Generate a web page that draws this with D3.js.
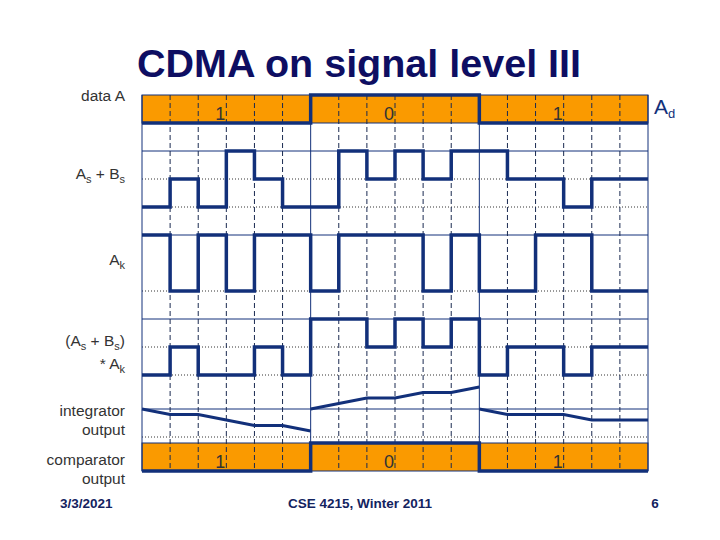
<!DOCTYPE html>
<html><head><meta charset="utf-8">
<script src="https://cdn.jsdelivr.net/npm/d3@7"></script>
<style>
body{margin:0;background:#fff;}
svg text{font-family:"Liberation Sans",Arial,sans-serif;}
</style></head>
<body><svg id="c" width="720" height="540"></svg>
<script>
// ---- data ----
const title = "CDMA on signal level III";
const dataBits = [1, 0, 1];                 // data A (bit values)
const bitLabels = ["1", "0", "1"];
const chipsPerBit = 6;
const asBs    = [0,1,0,2,1,0, 0,2,1,2,1,2, 2,1,1,0,1,1];   // As + Bs (levels 0..2)
const ak      = [1,0,1,0,1,1, 0,1,1,1,0,1, 0,0,1,1,0,0];   // Ak chip sequence
const product = [0,1,0,0,1,0, 2,2,1,2,1,2, 0,1,1,0,1,1];   // (As + Bs) * Ak (levels 0..2)
const integrator = [                                     // integrator output per bit, at chip boundaries
  [0,-1,-1,-2,-3,-3,-4],
  [0, 1, 2, 2, 3, 3, 4],
  [0,-1,-1,-1,-2,-2,-2]
];
const comparatorBits = [1, 0, 1];
const footer = {date: "3/3/2021", course: "CSE 4215, Winter 2011", page: "6"};

// ---- drawing ----
const svg = d3.select("#c");
const navy = "#12307a";
const orange = "#fa9a00";
const nChips = asBs.length;
const x = d3.scaleLinear().domain([0, nChips]).range([142, 648]);

const yData = d3.scaleLinear().domain([0, 1]).range([95, 123]);
const yAsBs = d3.scaleLinear().domain([0, 2]).range([207, 151]);
const yAk = d3.scaleLinear().domain([0, 1]).range([291, 235]);
const yProd = d3.scaleLinear().domain([0, 2]).range([375, 319]);
const yInt = d3.scaleLinear().domain([0, -4]).range([409, 431]);
const yComp = d3.scaleLinear().domain([0, 1]).range([443, 471]);

// title
svg.append("text").attr("x", 359).attr("y", 77).attr("text-anchor", "middle")
  .attr("font-size", 39.5).attr("font-weight", "bold").attr("fill", "#0e0e62").text(title);

// orange bands
[[95,123],[443,471]].forEach(([a,b]) => {
  svg.append("rect").attr("x", x(0)).attr("y", a).attr("width", x(nChips)-x(0)).attr("height", b-a)
    .attr("fill", orange).attr("stroke", navy).attr("stroke-width", 1);
});

// horizontal grid
const solidH = [151, 235, 319, 409];
const dottedH = [179, 207, 291, 347, 375, 437];
svg.selectAll(".hs").data(solidH).enter().append("line")
  .attr("x1", x(0)).attr("x2", x(nChips)).attr("y1", d=>d).attr("y2", d=>d)
  .attr("stroke", navy).attr("stroke-width", 1);
svg.selectAll(".hd").data(dottedH).enter().append("line")
  .attr("x1", x(0)).attr("x2", x(nChips)).attr("y1", d=>d).attr("y2", d=>d)
  .attr("stroke", "#333").attr("stroke-width", 1).attr("stroke-dasharray", "1,2");

// vertical grid
const vt = d3.range(0, nChips + 1);
svg.selectAll(".v").data(vt).enter().append("line")
  .attr("x1", d=>x(d)).attr("x2", d=>x(d)).attr("y1", 95).attr("y2", 471)
  .attr("stroke", d => (d % chipsPerBit === 0) ? navy : "#1a2a50").attr("stroke-width", 1)
  .attr("stroke-dasharray", d => (d % chipsPerBit === 0) ? null : "5,3");

// step signal helper
function stepPath(vals, yS, unit) {
  const pts = vals.map((v,i) => [x(i*unit), yS(v)]);
  pts.push([x(vals.length*unit), yS(vals[vals.length-1])]);
  return d3.line().curve(d3.curveStepAfter)(pts);
}
const thick = 3.5;
svg.append("path").attr("d", stepPath(dataBits, yData, chipsPerBit)).attr("fill","none").attr("stroke",navy).attr("stroke-width",thick);
svg.append("path").attr("d", stepPath(asBs, yAsBs, 1)).attr("fill","none").attr("stroke",navy).attr("stroke-width",thick);
svg.append("path").attr("d", stepPath(ak, yAk, 1)).attr("fill","none").attr("stroke",navy).attr("stroke-width",thick);
svg.append("path").attr("d", stepPath(product, yProd, 1)).attr("fill","none").attr("stroke",navy).attr("stroke-width",thick);
svg.append("path").attr("d", stepPath(comparatorBits, yComp, chipsPerBit)).attr("fill","none").attr("stroke",navy).attr("stroke-width",thick);

// integrator
integrator.forEach((seg, b) => {
  const line = d3.line().x((v,i) => x(b*chipsPerBit + i)).y(v => yInt(v));
  svg.append("path").attr("d", line(seg)).attr("fill","none").attr("stroke",navy).attr("stroke-width",3);
});

// bit labels in bands
bitLabels.forEach((t, b) => {
  const cx = x(b*chipsPerBit + chipsPerBit/2) - 6;
  [120, 468].forEach(yy => {
    svg.append("text").attr("x", cx).attr("y", yy).attr("text-anchor","middle")
      .attr("font-size", 18).attr("fill", "#333").text(t);
  });
});

// left labels
const lab = "#333";
function label(y, parts) {
  const t = svg.append("text").attr("x", 125).attr("y", y).attr("text-anchor","end")
    .attr("font-size", 15.5).attr("fill", lab);
  parts.forEach(p => {
    const s = t.append("tspan").text(p[0]);
    if (p[1]) s.attr("font-size", 11).attr("dy", 4);
    else if (p[2]) s.attr("dy", -4);
  });
}
label(101, [["data A"]]);
label(179, [["A"],["s",1],[" + B",0,1],["s",1]]);
label(265, [["A"],["k",1]]);
label(346, [["(A"],["s",1],[" + B",0,1],["s",1],[")",0,1]]);
label(369, [["* A"],["k",1]]);
label(416, [["integrator"]]);
label(435, [["output"]]);
label(465, [["comparator"]]);
label(484, [["output"]]);

// Ad label
const ad = svg.append("text").attr("x", 654).attr("y", 114).attr("font-size", 21).attr("fill", navy);
ad.append("tspan").text("A");
ad.append("tspan").text("d").attr("font-size", 13).attr("dy", 4);

// footer
const ft = (xx, anchor, t) => svg.append("text").attr("x", xx).attr("y", 508).attr("text-anchor", anchor)
  .attr("font-size", 13.5).attr("font-weight","bold").attr("fill","#13235f").text(t);
ft(60, "start", footer.date);
ft(360, "middle", footer.course);
ft(655, "middle", footer.page);
</script></body></html>
